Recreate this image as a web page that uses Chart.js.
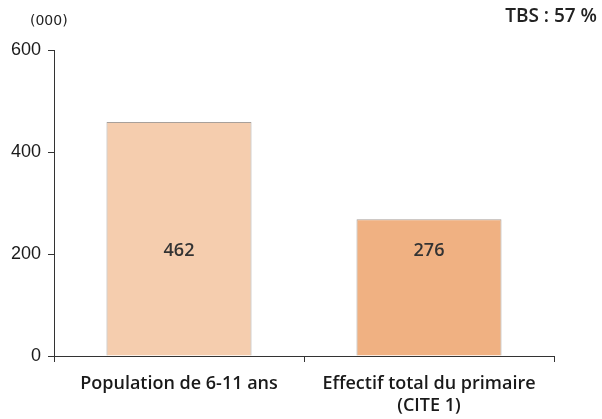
<!DOCTYPE html>
<html>
<head>
<meta charset="utf-8">
<script src="https://cdn.jsdelivr.net/npm/chart.js@4/dist/chart.umd.min.js"></script>
<style>
html,body{margin:0;padding:0;background:#fff;}
#wrap{width:602px;height:419px;position:relative;}
</style>
</head>
<body>
<div id="wrap"><canvas id="c" width="602" height="419"></canvas></div>
<script>
const categories = [["Population de 6-11 ans"], ["Effectif total du primaire", "(CITE 1)"]];
const values = [459, 268];
const valueLabels = ["462", "276"];
const barColors = ["#F5CDAE", "#F0B182"];
const yTicks = [0, 200, 400, 600];
const unitLabel = "(000)";
const noteLabel = "TBS : 57 %";
const labelAnchorValue = 207;

const textPlugin = {
  id: 'texts',
  afterDraw(chart) {
    const ctx = chart.ctx;
    ctx.save();
    ctx.fillStyle = '#222';
    ctx.textBaseline = 'middle';
    ctx.font = '14px "DejaVu Sans", sans-serif';
    ctx.textAlign = 'left';
    ctx.fillText(unitLabel, 30, 21);
    ctx.font = '600 19px "Open Sans", sans-serif';
    ctx.textAlign = 'right';
    ctx.fillText(noteLabel, 597, 17);
    const meta = chart.getDatasetMeta(0);
    const y = chart.scales.y.getPixelForValue(labelAnchorValue);
    ctx.font = '600 18px "Open Sans", sans-serif';
    ctx.textAlign = 'center';
    ctx.fillStyle = '#333';
    meta.data.forEach((bar, i) => {
      ctx.fillText(valueLabels[i], bar.x, y);
    });
    ctx.restore();
  }
};

new Chart(document.getElementById('c'), {
  type: 'bar',
  data: {
    labels: categories,
    datasets: [{
      data: values,
      backgroundColor: barColors,
      borderColor: '#A8A09A',
      borderWidth: {top: 1, left: 1, right: 1, bottom: 0},
      borderSkipped: 'bottom',
      categoryPercentage: 1,
      barPercentage: 0.58
    }]
  },
  options: {
    responsive: false,
    animation: false,
    events: [],
    layout: { padding: { top: 50, right: 48, left: 8, bottom: 0 } },
    plugins: { legend: { display: false }, tooltip: { enabled: false } },
    scales: {
      x: {
        offset: true,
        afterFit(axis) { axis.height = 63; },
        grid: { drawOnChartArea: false, drawTicks: true, tickLength: 6, offset: true, color: '#333' },
        border: { color: '#333', width: 1 },
        ticks: {
          color: '#1a1a1a',
          padding: 11,
          font: { family: '"Open Sans", sans-serif', size: 18, weight: '600', lineHeight: 1.2 },
          maxRotation: 0
        }
      },
      y: {
        min: 0,
        max: 600,
        afterBuildTicks(axis) { axis.ticks = yTicks.map(v => ({ value: v })); },
        afterFit(axis) { axis.width = 46; },
        grid: { drawOnChartArea: false, drawTicks: true, tickLength: 6, color: '#333' },
        border: { color: '#333', width: 1 },
        ticks: {
          color: '#1a1a1a',
          padding: 7,
          font: { family: '"Liberation Sans", Arial, sans-serif', size: 18 }
        }
      }
    }
  },
  plugins: [textPlugin]
});
</script>
</body>
</html>
